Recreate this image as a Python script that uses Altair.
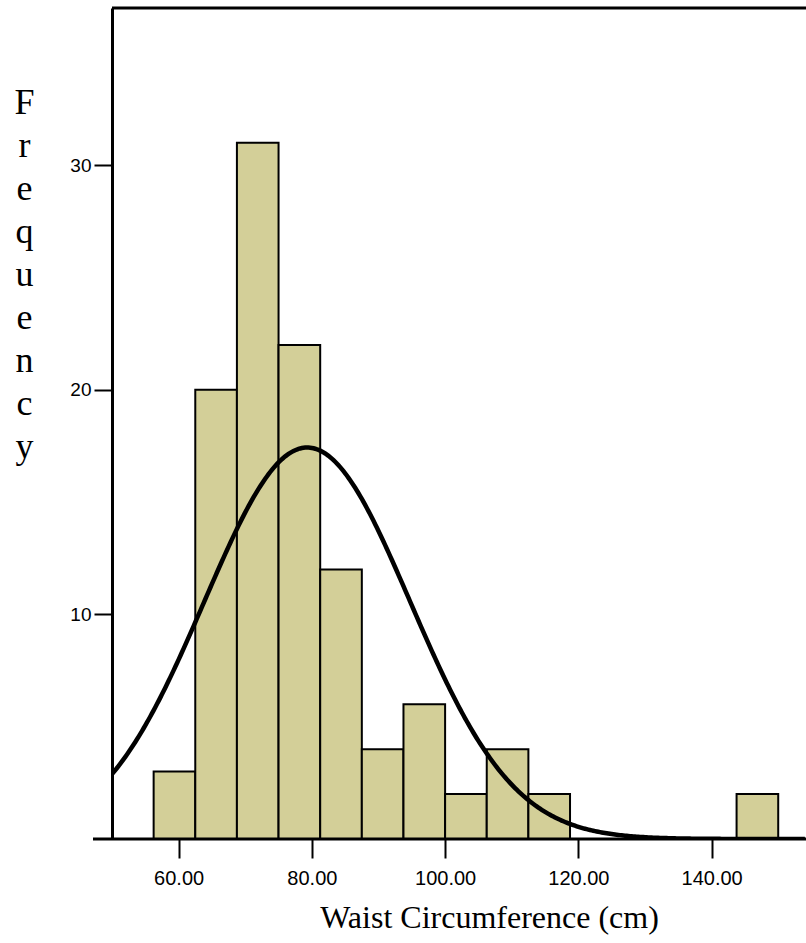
import altair as alt
import pandas as pd

# Histogram bins (left edges, width 6.25 cm) and counts
bin_start = [56.25, 62.5, 68.75, 75.0, 81.25, 87.5, 93.75, 100.0, 106.25, 112.5, 143.75]
bin_width = 6.25
counts = [3, 20, 31, 22, 12, 4, 6, 2, 4, 2, 2]

# Fitted normal curve parameters
fit_mean = 79.3
fit_sd = 15.45
n_total = sum(counts)

x_ticks = [60, 80, 100, 120, 140]
y_ticks = [10, 20, 30]

bars = pd.DataFrame({
    "start": bin_start,
    "end": [s + bin_width for s in bin_start],
    "count": counts,
})

W, H = 694, 831
xscale = alt.Scale(domain=[50, 154.17], nice=False, zero=False)
yscale = alt.Scale(domain=[0, 37], nice=False)

x_axis = alt.Axis(
    values=x_ticks, format=".2f", title="Waist Circumference (cm)",
    grid=False, domain=False, ticks=True, tickSize=19, tickWidth=2, tickColor="black",
    labelFont="Liberation Sans", labelFontSize=20, labelColor="black", labelPadding=10,
    titleFont="Liberation Serif", titleFontSize=32, titleFontWeight="normal",
    titleColor="black", titlePadding=14, titleX=377, titleAlign="center",
)
y_axis = alt.Axis(
    values=y_ticks, format="d", title=list("Frequency"),
    grid=False, domain=True, domainColor="black", domainWidth=3,
    ticks=True, tickSize=18, tickWidth=2, tickColor="black",
    labelFont="Liberation Sans", labelFontSize=19, labelColor="black", labelPadding=3,
    titleFont="Liberation Serif", titleFontSize=36, titleFontWeight="normal",
    titleColor="black", titleAngle=0, titleLineHeight=43,
    titleX=-88, titleY=105, titleAlign="center", titleBaseline="alphabetic",
)

hist = alt.Chart(bars).mark_rect(
    fill="#D3CF98", stroke="black", strokeWidth=2
).encode(
    x=alt.X("start:Q", scale=xscale, axis=x_axis),
    x2="end:Q",
    y=alt.Y("count:Q", scale=yscale, axis=y_axis),
    y2=alt.datum(0),
)

curve = alt.Chart(alt.sequence(50, 154.2, 0.25, as_="x")).transform_calculate(
    y=f"{n_total}*{bin_width}/({fit_sd}*sqrt(2*PI))*exp(-0.5*pow((datum.x-{fit_mean})/{fit_sd},2))"
).mark_line(color="black", strokeWidth=4.5, clip=True).encode(
    x=alt.X("x:Q", scale=xscale),
    y=alt.Y("y:Q", scale=yscale),
)

xline = alt.Chart(pd.DataFrame({"a": [0]})).mark_rule(color="black", strokeWidth=3).encode(
    x=alt.value(-19), x2=alt.value(W), y=alt.value(H)
)
topline = alt.Chart(pd.DataFrame({"a": [0]})).mark_rule(color="black", strokeWidth=3).encode(
    x=alt.value(0), x2=alt.value(W), y=alt.value(0)
)

chart = alt.layer(hist, curve, xline, topline).properties(
    width=W, height=H,
    autosize=alt.AutoSizeParams(type="none"),
    padding={"left": 112, "top": 8, "right": 0, "bottom": 104},
    background="white",
).configure_view(stroke=None)

chart.save("out.html", embed_options={"renderer": "svg", "actions": False})
